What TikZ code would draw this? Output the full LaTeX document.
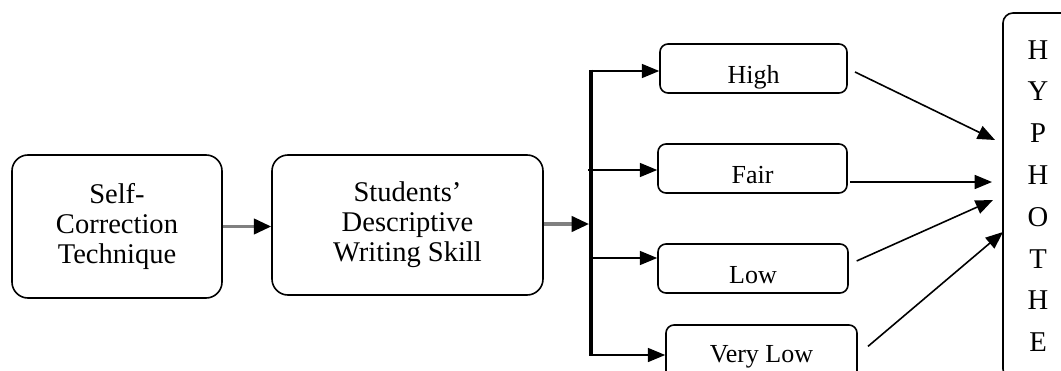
\documentclass[tikz,border=0pt]{standalone}
\usepackage{fontspec}
\setmainfont{Liberation Serif}
\usetikzlibrary{arrows.meta}
\begin{document}
\begin{tikzpicture}[x=0.75pt,y=-0.75pt,
  bigbox/.style={draw, line width=1.2pt, rounded corners=12pt, align=center,
    inner sep=0pt, font=\fontsize{21.4}{22.5}\selectfont},
  smallbox/.style={draw, line width=1.2pt, rounded corners=6pt, inner sep=0pt,
    font=\fontsize{19.5}{22}\selectfont, text height=24pt, text depth=2.2pt,
    minimum height=36.75pt},
  hypbox/.style={draw, line width=1.2pt, rounded corners=7.5pt, align=center,
    inner sep=0pt, font=\fontsize{21.5}{31.35}\selectfont},
  blackarrow/.style={-{Triangle[length=13pt,width=10.5pt]}, line width=1.2pt},
  grayarrow/.style={-{Triangle[length=13pt,width=11.5pt,color=black]},
    draw=gray, line width=2.4pt},
  barline/.style={line width=2.8pt}
]
\useasboundingbox (0,0) rectangle (1061,371);
\clip (0,0) rectangle (1061,371);

% main boxes
\node[bigbox, minimum width=157.5pt, minimum height=107.25pt] (self) at (117,226.5)
  {Self-\\Correction\\Technique};
\node[bigbox, minimum width=203.25pt, minimum height=105pt] (skill) at (407.5,225)
  {Students’\\Descriptive\\Writing Skill};

% category boxes
\node[smallbox, minimum width=140.25pt] (high) at (753.5,68.5) {High};
\node[smallbox, minimum width=141.75pt] (fair) at (752.5,168.5) {Fair};
\node[smallbox, minimum width=142.5pt]  (low)  at (753,268.5) {Low};
\node[smallbox, minimum width=143.25pt, minimum height=45pt, text height=15pt, text depth=4pt]
  (vlow) at (761.5,355) {Very Low};

% hypothesis column
\node[hypbox, minimum width=52.5pt, minimum height=274.5pt] (hyp) at (1038,196)
  {H\\Y\\P\\H\\O\\T\\H\\E};

% branching bar
\coordinate (barTop) at (591,71);
\coordinate (barBot) at (591,355);
\coordinate (barIn)  at (589,224);
\coordinate (bHigh)  at (591,71);
\coordinate (bFair)  at (588,170);
\coordinate (bLow)   at (591,258);
\coordinate (bVlow)  at (591,355);
\draw[barline] ([yshift=1pt]barTop) -- ([yshift=-1pt]barBot);

% flow arrows
\draw[grayarrow] (self.east) -- (self.east -| skill.west);
\draw[grayarrow] (barIn -| skill.east) -- (barIn);

\draw[blackarrow] (bHigh) -- (bHigh -| high.west);
\draw[blackarrow] (bFair) -- (bFair -| fair.west);
\draw[blackarrow] (bLow)  -- (bLow -| low.west);
\draw[blackarrow] (bVlow) -- (bVlow -| vlow.west);

% arrows into the hypothesis column
\coordinate (hHigh) at (995,140);
\coordinate (hFair) at (992,182);
\coordinate (hLow)  at (993,200);
\coordinate (hVlow) at (1003,232);
\draw[blackarrow, shorten <=6pt] (high.east) -- (hHigh);
\draw[blackarrow, shorten <=2pt] (fair.east |- hFair) -- (hFair);
\draw[blackarrow, shorten <=6.5pt] ([yshift=3pt]low.east) -- (hLow);
\draw[blackarrow, shorten <=10pt] (vlow.east) -- (hVlow);
\end{tikzpicture}
\end{document}
